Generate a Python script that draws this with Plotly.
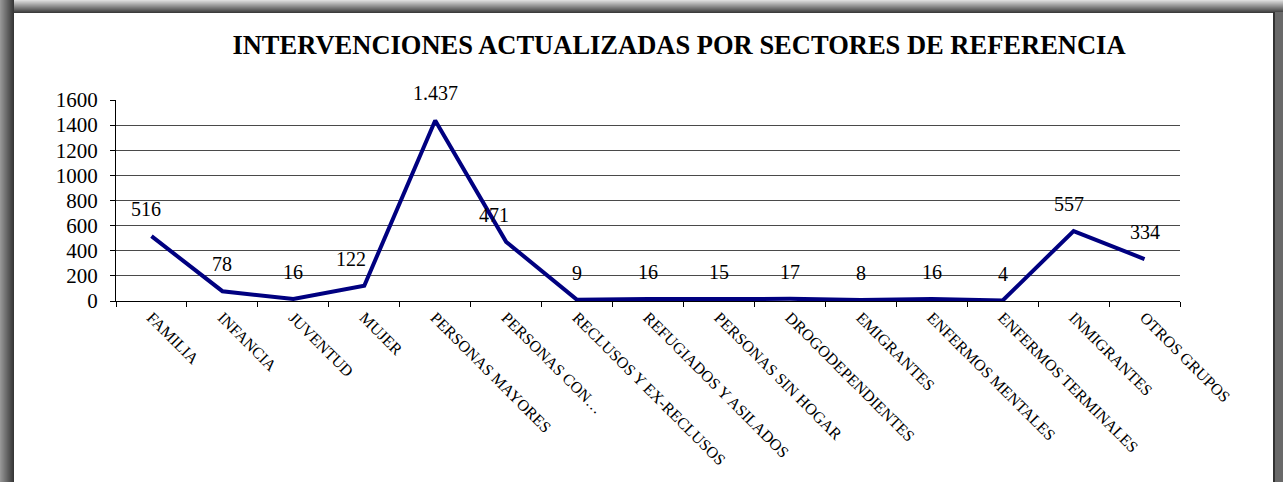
import plotly.graph_objects as go

categories = ["FAMILIA", "INFANCIA", "JUVENTUD", "MUJER", "PERSONAS MAYORES",
              "PERSONAS CON…", "RECLUSOS Y EX-RECLUSOS", "REFUGIADOS Y ASILADOS",
              "PERSONAS SIN HOGAR", "DROGODEPENDIENTES", "EMIGRANTES",
              "ENFERMOS MENTALES", "ENFERMOS TERMINALES", "INMIGRANTES", "OTROS GRUPOS"]
values = [516, 78, 16, 122, 1437, 471, 9, 16, 15, 17, 8, 16, 4, 557, 334]
y_ticks = [0, 200, 400, 600, 800, 1000, 1200, 1400, 1600]
title_text = "INTERVENCIONES ACTUALIZADAS POR SECTORES DE REFERENCIA"

W, H = 1283, 482
L, R, T, B = 116, 1180, 100, 301
SERIF = "Liberation Serif"

# small horizontal nudges of some data labels (style only)
label_nudge = {"FAMILIA": -5, "MUJER": -13, "PERSONAS CON…": -12, "INMIGRANTES": -5}

def px(x):
    return (x - L) / (R - L)

def py(y):
    return (B - y) / (B - T)

fig = go.Figure()
fig.add_trace(go.Scatter(
    x=categories, y=values, mode="lines",
    line=dict(color="#000080", width=4),
    hoverinfo="x+y", showlegend=False,
))

def fmt(v):
    return f"{v:,}".replace(",", ".")

annotations = []
for c, v in zip(categories, values):
    annotations.append(dict(
        x=c, y=v, xref="x", yref="y", text=fmt(v), showarrow=False,
        yanchor="middle", yshift=27, xshift=label_nudge.get(c, 0),
        font=dict(family=SERIF, size=20, color="black"),
    ))

shapes = []
def rect(x0, y0, x1, y1, color):
    shapes.append(dict(type="rect", xref="paper", yref="paper",
                       x0=px(x0), x1=px(x1), y0=py(y1), y1=py(y0),
                       fillcolor=color, line=dict(width=0), layer="below"))

# top shadow band
for i in range(13):
    g = int(220 - (220 - 60) * i / 12)
    rect(0, i, W, i + 1, f"rgb({g},{g},{g})")
# left shadow band
for i in range(14):
    g = int(150 - (150 - 55) * i / 13)
    rect(i, 0, i + 1, H, f"rgb({g},{g},{g})")
# right shadow band
rect(1273, 12, W, H, "rgb(105,105,105)")
rect(1273, 12, 1275, H, "rgb(50,50,50)")

fig.update_layout(
    width=W, height=H,
    margin=dict(l=L, r=W - R, t=T, b=H - B),
    paper_bgcolor="white", plot_bgcolor="rgba(0,0,0,0)",
    title=dict(text=f"<b>{title_text}</b>", x=679 / W, xanchor="center",
               y=1 - 45 / H, yanchor="middle",
               font=dict(family=SERIF, size=26.5, color="black")),
    font=dict(family=SERIF, color="black"),
    xaxis=dict(type="category", range=[-0.5, len(categories) - 0.5],
               tickson="boundaries", ticks="outside", ticklen=5, tickcolor="black",
               showline=True, linecolor="black", linewidth=1,
               showgrid=False, tickangle=45,
               tickfont=dict(family=SERIF, size=16, color="black")),
    yaxis=dict(range=[0, 1600], tickvals=y_ticks, ticks="outside", ticklen=5,
               tickcolor="black", showline=True, linecolor="black", linewidth=1,
               showgrid=True, gridcolor="#4a4a4a", gridwidth=1, zeroline=False,
               ticklabelstandoff=8,
               tickfont=dict(family=SERIF, size=21, color="black")),
    annotations=annotations,
    shapes=shapes,
)

fig.write_html("out.html", config={"displayModeBar": False},
               post_script="document.body.style.margin='0px';")
